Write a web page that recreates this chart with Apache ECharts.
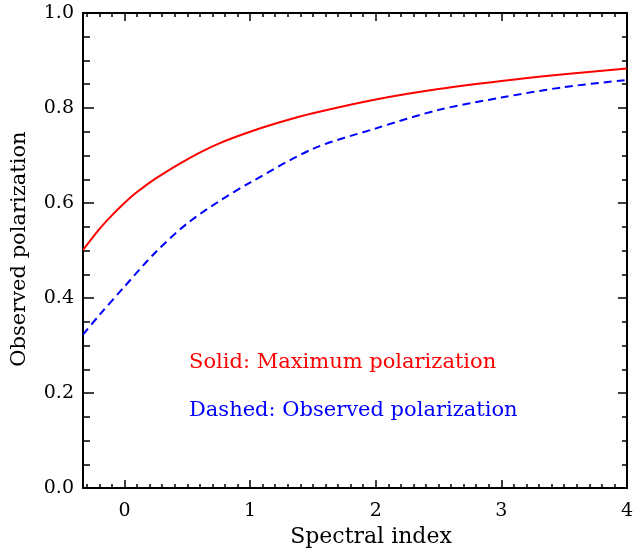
<!DOCTYPE html>
<html>
<head>
<meta charset="utf-8">
<script src="https://cdn.jsdelivr.net/npm/echarts@6/dist/echarts.min.js"></script>
<style>
  html, body { margin: 0; padding: 0; background: #fff; }
  #chart { width: 636px; height: 548px; }
</style>
</head>
<body>
<div id="chart"></div>
<script>
// Spectral index grid and the two polarization curves
const alphaMax = [-0.33, -0.2, -0.1, 0, 0.1, 0.25, 0.5, 0.75, 1, 1.25, 1.5, 2, 2.5, 3, 3.5, 4];
const polMax   = [0.501, 0.545, 0.574, 0.600, 0.623, 0.652, 0.692, 0.725, 0.750, 0.771, 0.789, 0.818, 0.840, 0.857, 0.871, 0.883];

const alphaObs = [-0.33, -0.2, 0, 0.25, 0.5, 0.75, 1, 1.5, 2, 2.5, 3, 3.5, 4];
const polObs   = [0.323, 0.364, 0.424, 0.497, 0.557, 0.603, 0.643, 0.714, 0.757, 0.796, 0.822, 0.844, 0.859];

// Axis tick positions
const xMajorTicks = [0, 1, 2, 3, 4];
const xMinorTicks = [-0.3, -0.2, -0.1, 0.1, 0.2, 0.3, 0.4, 0.5, 0.6, 0.7, 0.8, 0.9,
  1.1, 1.2, 1.3, 1.4, 1.5, 1.6, 1.7, 1.8, 1.9, 2.1, 2.2, 2.3, 2.4, 2.5, 2.6, 2.7, 2.8, 2.9,
  3.1, 3.2, 3.3, 3.4, 3.5, 3.6, 3.7, 3.8, 3.9];

const X_MIN = -0.33, X_MAX = 4;
const FONT = 'DejaVu Serif';
const ink = '#000';

const chart = echarts.init(document.getElementById('chart'), null, { renderer: 'canvas' });

function xAxisDef(position, ticks, len, showLine, showLabels) {
  return {
    type: 'value', position: position, min: X_MIN, max: X_MAX,
    axisLine: { show: showLine, onZero: false, lineStyle: { color: ink, width: 2 } },
    axisTick: { show: true, inside: true, length: len, customValues: ticks, lineStyle: { color: ink, width: 1.5 } },
    axisLabel: showLabels ? {
      show: true, customValues: ticks, color: ink, fontFamily: FONT, fontSize: 19, margin: 14,
      formatter: v => String(Math.round(v))
    } : { show: false },
    splitLine: { show: false }
  };
}

function yAxisDef(position, majorLen, minorLen, showLabels) {
  return {
    type: 'value', position: position, min: 0, max: 1, interval: 0.2,
    axisLine: { show: true, onZero: false, lineStyle: { color: ink, width: 2 } },
    axisTick: { show: true, inside: true, length: majorLen, lineStyle: { color: ink, width: 1.5 } },
    minorTick: { show: true, splitNumber: 4, length: minorLen, lineStyle: { color: ink, width: 1.5 } },
    axisLabel: showLabels ? {
      show: true, color: ink, fontFamily: FONT, fontSize: 19, margin: 9,
      formatter: v => v.toFixed(1)
    } : { show: false },
    splitLine: { show: false }
  };
}

chart.setOption({
  backgroundColor: '#fff',
  animation: false,
  grid: { left: 83, right: 2, top: 13, bottom: 60, containLabel: false },
  xAxis: [
    xAxisDef('bottom', xMajorTicks, 8, true, true),
    xAxisDef('bottom', xMinorTicks, 4, false, false),
    xAxisDef('top', xMajorTicks, 8, true, false),
    xAxisDef('top', xMinorTicks, 4, false, false)
  ],
  yAxis: [
    yAxisDef('left', 11, 7, true),
    yAxisDef('right', 9, 5, false)
  ],
  series: [
    {
      name: 'Maximum polarization', type: 'line', xAxisIndex: 0, yAxisIndex: 0,
      data: alphaMax.map((a, i) => [a, polMax[i]]),
      smooth: 0.3, showSymbol: false, symbol: 'none',
      lineStyle: { color: '#ff0000', width: 2, type: 'solid' }
    },
    {
      name: 'Observed polarization', type: 'line', xAxisIndex: 0, yAxisIndex: 0,
      data: alphaObs.map((a, i) => [a, polObs[i]]),
      smooth: 0.3, showSymbol: false, symbol: 'none',
      lineStyle: { color: '#0000ff', width: 2, type: [8, 5] }
    }
  ],
  graphic: [
    {
      type: 'text', x: 371, y: 537,
      style: { text: 'Spectral index', fill: ink, font: '22px "DejaVu Serif"', align: 'center', verticalAlign: 'middle' }
    },
    {
      type: 'text', x: 20, y: 249, rotation: Math.PI / 2,
      style: { text: 'Observed polarization', fill: ink, font: '21px "DejaVu Serif"', align: 'center', verticalAlign: 'middle' }
    },
    {
      type: 'text', x: 189, y: 363,
      style: { text: 'Solid: Maximum polarization', fill: '#ff0000', font: '21px "DejaVu Serif"', align: 'left', verticalAlign: 'middle' }
    },
    {
      type: 'text', x: 189, y: 411,
      style: { text: 'Dashed: Observed polarization', fill: '#0000ff', font: '21px "DejaVu Serif"', align: 'left', verticalAlign: 'middle' }
    }
  ]
});
</script>
</body>
</html>
